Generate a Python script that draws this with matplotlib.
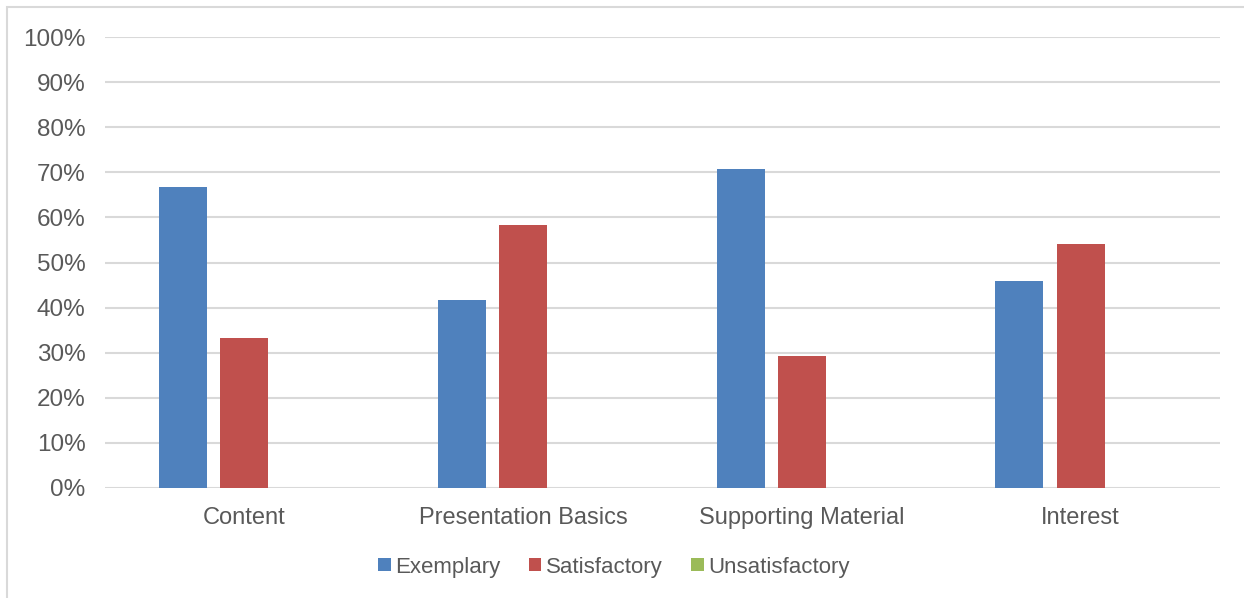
import numpy as np
import matplotlib
matplotlib.use('Agg')
from matplotlib import pyplot as plt
from matplotlib.patches import Rectangle
from matplotlib.ticker import PercentFormatter

plt.rcParams['font.family'] = ['Liberation Sans', 'DejaVu Sans']

categories = ['Content', 'Presentation Basics', 'Supporting Material', 'Interest']
exemplary = [66.7, 41.7, 70.8, 45.8]
satisfactory = [33.3, 58.3, 29.2, 54.2]
unsatisfactory = [0, 0, 0, 0]
series_names = ['Exemplary', 'Satisfactory', 'Unsatisfactory']
colors = ['#4F81BD', '#C0504D', '#9BBB59']
text_col = '#595959'
grid_col = '#D9D9D9'

fig = plt.figure(figsize=(12.44, 5.98), dpi=100)
# outer chart border (cropped on the right and bottom)
fig.patches.append(Rectangle((7/1244, -0.1), 1.2, 1 - 7/598 + 0.1, transform=fig.transFigure,
                             fill=False, edgecolor=grid_col, linewidth=1.5, zorder=0))

ax = fig.add_axes([105/1244, 1 - 488/598, (1220 - 105)/1244, (488 - 37)/598])

x = np.arange(len(categories))
w = 0.172
step = 0.22
for i, (vals, name) in enumerate(zip([exemplary, satisfactory, unsatisfactory], series_names)):
    ax.bar(x + (i - 1) * step, vals, width=w, color=colors[i], label=name, zorder=3)

ax.set_xlim(-0.5, len(categories) - 0.5)
ax.set_ylim(0, 100)
ax.set_yticks(np.arange(0, 101, 10))
ax.yaxis.set_major_formatter(PercentFormatter(decimals=0))
ax.set_xticks(x)
ax.set_xticklabels(categories)
ax.tick_params(axis='y', length=0, pad=14, labelsize=17.5, labelcolor=text_col)
ax.tick_params(axis='x', length=0, pad=13.5, labelsize=17, labelcolor=text_col)
ax.grid(axis='y', color=grid_col, linewidth=1.5, zorder=0)
for s in ax.spines.values():
    s.set_visible(False)

fig.legend(loc='center', bbox_to_anchor=(614/1244, 1 - 567/598), ncol=3, frameon=False,
           fontsize=16, labelcolor=text_col, handlelength=0.55, handleheight=0.55,
           handletextpad=0.2, columnspacing=1.3)

fig.savefig('out.png', dpi=100)
